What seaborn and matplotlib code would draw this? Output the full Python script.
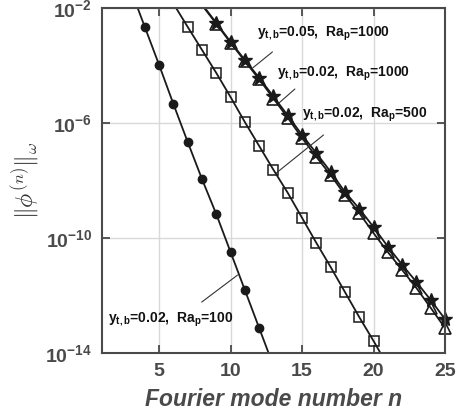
import numpy as np
import pandas as pd
import matplotlib
matplotlib.use("Agg")
import matplotlib.pyplot as plt
import seaborn as sns
from matplotlib.ticker import LogFormatterMathtext, FixedLocator

# ---------------- data (log10 of the norm) ----------------
n_circ = [4, 5, 6, 7, 8, 9, 10, 11, 12]
lg_circ = [-2.66, -3.98, -5.34, -6.66, -7.95, -9.17, -10.49, -11.81, -13.13]
n_circ_line = [3, 13]
lg_circ_line = [-1.34, -14.45]

n_sq = [7, 8, 9, 10, 11, 12, 13, 14, 15, 16, 17, 18, 19, 20]
lg_sq = [-2.66, -3.46, -4.26, -5.10, -5.97, -6.80, -7.63, -8.43, -9.30, -10.17,
         -11.01, -11.88, -12.75, -13.58]
n_sq_line = [6, 21]
lg_sq_line = [-1.85, -14.45]

n_tri = [9, 10, 11, 12, 13, 14, 15, 16, 17, 18, 19, 20, 21, 22, 23, 24, 25]
lg_tri = [-2.55, -3.21, -3.85, -4.48, -5.15, -5.82, -6.52, -7.18, -7.81, -8.50,
          -9.13, -9.83, -10.49, -11.11, -11.74, -12.43, -13.13]
n_tri_line = [8]
lg_tri_line = [-1.90]

n_star = [9, 10, 11, 12, 13, 14, 15, 16, 17, 18, 19, 20, 21, 22, 23, 24, 25]
lg_star = [-2.52, -3.18, -3.81, -4.43, -5.08, -5.74, -6.42, -7.05, -7.70, -8.40,
           -8.98, -9.62, -10.30, -10.93, -11.53, -12.16, -12.82]
n_star_line = [8]
lg_star_line = [-1.87]

x_ticks = [5, 10, 15, 20, 25]
y_ticks = [1e-2, 1e-6, 1e-10, 1e-14]

labels = [r"y$_{\mathbf{t,b}}$=0.05,  Ra$_{\mathbf{p}}$=1000",
          r"y$_{\mathbf{t,b}}$=0.02,  Ra$_{\mathbf{p}}$=1000",
          r"y$_{\mathbf{t,b}}$=0.02,  Ra$_{\mathbf{p}}$=500",
          r"y$_{\mathbf{t,b}}$=0.02,  Ra$_{\mathbf{p}}$=100"]

# ---------------- style ----------------
sns.set_theme(style="ticks")
plt.rcParams["font.family"] = ["Liberation Sans", "DejaVu Sans"]
plt.rcParams["mathtext.fontset"] = "custom"
plt.rcParams["mathtext.rm"] = "Liberation Sans:bold"
plt.rcParams["mathtext.bf"] = "Liberation Sans:bold"
plt.rcParams["mathtext.it"] = "Liberation Sans:bold:italic"
plt.rcParams["mathtext.sf"] = "Liberation Sans:bold"

GREY = "#4a4a4a"

fig = plt.figure(figsize=(4.59, 4.17), dpi=100)
ax = fig.add_axes([0.222, 0.1535, 0.7475, 0.8275])


def df_of(n, lg):
    return pd.DataFrame({"n": n, "v": 10.0 ** np.array(lg, dtype=float)})


series = [
    (n_circ, lg_circ, n_circ_line, lg_circ_line, dict(marker="o", mfc="k", mec="k", ms=6, mew=1.0)),
    (n_sq, lg_sq, n_sq_line, lg_sq_line, dict(marker="s", mfc="none", mec="k", ms=7, mew=1.1)),
    (n_tri, lg_tri, n_tri_line, lg_tri_line, dict(marker="^", mfc="none", mec="k", ms=9, mew=1.2)),
    (n_star, lg_star, n_star_line, lg_star_line, dict(marker="*", mfc="k", mec="k", ms=10, mew=1.0)),
]

for n, lg, nl, lgl, mk in series:
    nn = list(n) + list(nl)
    ll = list(lg) + list(lgl)
    order = np.argsort(nn)
    d_line = df_of(np.array(nn)[order], np.array(ll)[order])
    sns.lineplot(data=d_line, x="n", y="v", ax=ax, color="k", lw=1.3,
                 sort=False, estimator=None)
    d_pts = df_of(n, lg)
    sns.lineplot(data=d_pts, x="n", y="v", ax=ax, color="k", linestyle="",
                 sort=False, estimator=None, clip_on=False, **mk)

ax.set_yscale("log")
ax.set_xlim(1, 25)
ax.set_ylim(1e-14, 1e-2)

ax.xaxis.set_major_locator(FixedLocator(x_ticks))
ax.yaxis.set_major_locator(FixedLocator(y_ticks))
ax.yaxis.set_minor_locator(FixedLocator([]))
ax.yaxis.set_major_formatter(LogFormatterMathtext())

ax.grid(True, color="#d9d9d9", lw=1.0)
ax.set_axisbelow(True)

ax.tick_params(axis="both", which="major", direction="in", length=6, width=1.3,
               colors=GREY, labelsize=14, top=True, right=True, pad=7)
for lab in ax.get_xticklabels() + ax.get_yticklabels():
    lab.set_fontweight("bold")
for sp in ax.spines.values():
    sp.set_color(GREY)
    sp.set_linewidth(1.5)
    sp.set_visible(True)

ax.set_xlabel("Fourier mode number n", fontsize=16.5, fontweight="bold",
              fontstyle="italic", color=GREY, labelpad=6)
ax.set_ylabel(r"$\|\phi^{(n)}\|_{\omega}$", fontsize=17, color="#333333",
              math_fontfamily="cm", labelpad=2)

# ---------------- annotations ----------------
txt_pos = [(11.82, 10 ** -3.01), (13.28, 10 ** -4.40), (15.03, 10 ** -5.83), (1.42, 10 ** -12.96)]
lead = [((12.93, 10 ** -3.53), (11.54, 10 ** -4.09)),
        ((14.50, 10 ** -4.82), (13.40, 10 ** -5.30)),
        ((16.50, 10 ** -6.42), (13.20, 10 ** -7.74)),
        ((7.98, 10 ** -12.23), (10.49, 10 ** -11.29))]
for lab, (tx, ty), ((x0, y0), (x1, y1)) in zip(labels, txt_pos, lead):
    ax.text(tx, ty, lab, fontsize=10, fontweight="bold", color="#111111",
            ha="left", va="baseline")
    ax.annotate("", xy=(x1, y1), xytext=(x0, y0),
                arrowprops=dict(arrowstyle="-", color="#333333", lw=0.8,
                                shrinkA=0, shrinkB=0))

fig.savefig("out.png", dpi=100)
